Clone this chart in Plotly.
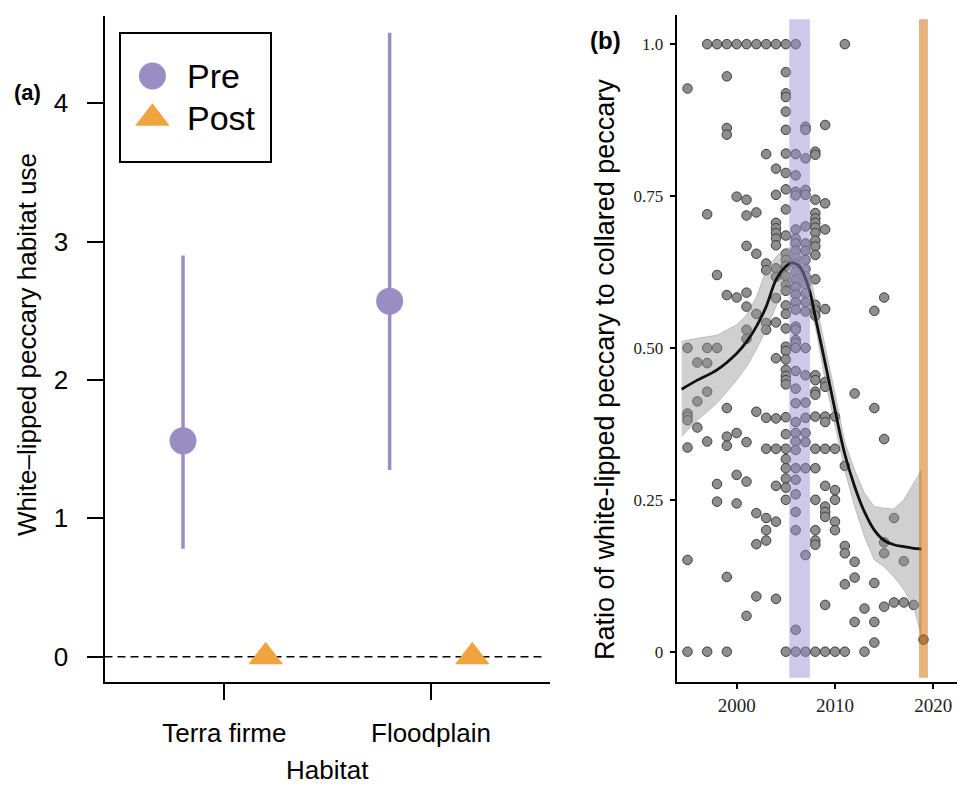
import numpy as np
import plotly.graph_objects as go

# ---------------- Panel (a) data ----------------
habitats = ["Terra firme", "Floodplain"]
pre_mean = [1.56, 2.57]
pre_lower = [0.78, 1.35]
pre_upper = [2.90, 4.51]
post_mean = [0.0, 0.0]
period_names = ["Pre", "Post"]

# ---------------- Panel (b) data ----------------
survey_year = (
    [1995] * 8 + [1996] * 3 + [1997] * 7 + [1998] * 5 + [1999] * 10 + [2000] * 6
    + [2001] * 11 + [2002] * 8 + [2003] * 11 + [2004] * 18 + [2005] * 36
    + [2006] * 36 + [2007] * 24 + [2008] * 27 + [2009] * 15 + [2010] * 7
    + [2011] * 6 + [2012] * 4 + [2013] * 2 + [2014] * 5 + [2015] * 5
    + [2016] * 2 + [2017] * 2 + [2018] * 1 + [2019] * 1
)
ratio = [
    # 1995
    0.927, 0.500, 0.392, 0.387, 0.381, 0.336, 0.151, 0.0,
    # 1996
    0.476, 0.412, 0.369,
    # 1997
    1.0, 0.720, 0.500, 0.475, 0.428, 0.346, 0.0,
    # 1998
    1.0, 0.620, 0.500, 0.276, 0.247,
    # 1999
    1.0, 0.947, 0.862, 0.851, 0.587, 0.401, 0.354, 0.339, 0.123, 0.0,
    # 2000
    1.0, 0.749, 0.583, 0.360, 0.291, 0.244,
    # 2001
    1.0, 0.744, 0.718, 0.668, 0.591, 0.568, 0.530, 0.515, 0.345, 0.280, 0.059,
    # 2002
    1.0, 0.723, 0.655, 0.556, 0.395, 0.228, 0.177, 0.091,
    # 2003
    1.0, 0.819, 0.639, 0.628, 0.541, 0.530, 0.385, 0.334, 0.220, 0.200, 0.183,
    # 2004
    1.0, 0.795, 0.752, 0.706, 0.697, 0.689, 0.680, 0.669, 0.631, 0.617, 0.582,
    0.542, 0.483, 0.384, 0.334, 0.273, 0.214, 0.087,
    # 2005
    1.0, 0.954, 0.919, 0.913, 0.889, 0.859, 0.820, 0.788, 0.761, 0.728, 0.685,
    0.655, 0.645, 0.635, 0.618, 0.604, 0.594, 0.570, 0.556, 0.532, 0.502, 0.495,
    0.481, 0.464, 0.454, 0.447, 0.440, 0.386, 0.358, 0.334, 0.317, 0.302, 0.285,
    0.270, 0.250, 0.0,
    # 2006
    1.0, 0.819, 0.784, 0.757, 0.751, 0.695, 0.680, 0.672, 0.660, 0.648, 0.638,
    0.625, 0.612, 0.600, 0.588, 0.575, 0.563, 0.535, 0.530, 0.513, 0.508, 0.500,
    0.462, 0.433, 0.409, 0.378, 0.360, 0.346, 0.332, 0.302, 0.283, 0.259, 0.230,
    0.200, 0.036, 0.0,
    # 2007
    0.864, 0.859, 0.812, 0.760, 0.752, 0.700, 0.672, 0.660, 0.645, 0.630, 0.618,
    0.605, 0.590, 0.575, 0.560, 0.500, 0.455, 0.410, 0.385, 0.360, 0.345, 0.302,
    0.159, 0.0,
    # 2008
    0.823, 0.818, 0.744, 0.722, 0.713, 0.706, 0.698, 0.689, 0.677, 0.667, 0.653,
    0.613, 0.571, 0.562, 0.553, 0.455, 0.447, 0.428, 0.423, 0.387, 0.334, 0.302,
    0.250, 0.200, 0.183, 0.176, 0.0,
    # 2009
    0.867, 0.738, 0.695, 0.564, 0.444, 0.436, 0.387, 0.378, 0.334, 0.273, 0.239,
    0.230, 0.222, 0.077, 0.0,
    # 2010
    0.387, 0.334, 0.266, 0.250, 0.214, 0.200, 0.0,
    # 2011
    1.0, 0.306, 0.174, 0.162, 0.111, 0.0,
    # 2012
    0.425, 0.148, 0.122, 0.049,
    # 2013
    0.071, 0.0,
    # 2014
    0.561, 0.401, 0.113, 0.049, 0.015,
    # 2015
    0.583, 0.350, 0.180, 0.162, 0.074,
    # 2016
    0.220, 0.081,
    # 2017
    0.149, 0.081,
    # 2018
    0.077,
    # 2019
    0.020,
]

# smoothed trend
smooth_year = [1994.4, 1996, 1998, 2000, 2001, 2002, 2003, 2004, 2005, 2005.6,
               2006.4, 2007.4, 2008, 2009, 2010, 2011, 2012, 2013, 2014, 2015,
               2016, 2017, 2018, 2018.8]
smooth_fit = [0.432, 0.447, 0.464, 0.491, 0.510, 0.535, 0.568, 0.612, 0.634, 0.640,
              0.634, 0.595, 0.551, 0.475, 0.398, 0.325, 0.272, 0.230, 0.200, 0.183,
              0.176, 0.173, 0.170, 0.169]
smooth_hi = [0.511, 0.516, 0.521, 0.538, 0.554, 0.584, 0.628, 0.650, 0.664, 0.665,
             0.658, 0.626, 0.579, 0.503, 0.426, 0.345, 0.299, 0.261, 0.239, 0.236,
             0.235, 0.250, 0.277, 0.299]
smooth_lo = [0.354, 0.381, 0.409, 0.447, 0.469, 0.497, 0.530, 0.568, 0.606, 0.613,
             0.606, 0.568, 0.535, 0.447, 0.370, 0.298, 0.239, 0.189, 0.151, 0.140,
             0.123, 0.102, 0.074, 0.025]

# highlighted periods
band_start = [2005.35, 2018.55]
band_end = [2007.45, 2019.45]
band_colors = ["rgba(150,140,210,0.47)", "rgba(205,102,0,0.5)"]

# ---------------- styling ----------------
PURPLE = "#998ec3"
ORANGE = "#f1a340"
SANS = "Liberation Sans, Arial, sans-serif"
SERIF = "Liberation Serif, Times New Roman, serif"
W, H = 957, 788
dodge = 0.2

pos = np.arange(1, len(habitats) + 1)
pre_mean_a = np.array(pre_mean)

fig = go.Figure()

# Panel (a)
fig.add_trace(go.Scatter(
    x=pos - dodge, y=pre_mean, mode="markers", name="Pre",
    marker=dict(symbol="circle", size=27, color=PURPLE),
    error_y=dict(type="data", symmetric=False,
                 array=np.array(pre_upper) - pre_mean_a,
                 arrayminus=pre_mean_a - np.array(pre_lower),
                 width=0, thickness=3.5, color=PURPLE),
    xaxis="x", yaxis="y", showlegend=False, cliponaxis=False))
fig.add_trace(go.Scatter(
    x=pos + dodge, y=post_mean, mode="markers", name="Post",
    marker=dict(symbol="triangle-up", size=30, color=ORANGE),
    xaxis="x", yaxis="y", showlegend=False, cliponaxis=False))

# custom legend (drawn on its own small axes)
fig.add_trace(go.Scatter(
    x=[0], y=[period_names[0]], mode="markers",
    marker=dict(symbol="circle", size=27, color=PURPLE),
    xaxis="x3", yaxis="y3", showlegend=False, hoverinfo="skip"))
fig.add_trace(go.Scatter(
    x=[0], y=[period_names[1]], mode="markers",
    marker=dict(symbol="triangle-up", size=30, color=ORANGE),
    xaxis="x3", yaxis="y3", showlegend=False, hoverinfo="skip"))

# Panel (b)
fig.add_trace(go.Scatter(
    x=survey_year, y=ratio, mode="markers",
    marker=dict(size=9.5, color="#8e8e8e", line=dict(color="#3c3c3c", width=1)),
    xaxis="x2", yaxis="y2", showlegend=False))
fig.add_trace(go.Scatter(
    x=smooth_year, y=smooth_lo, mode="lines",
    line=dict(color="rgba(120,120,120,0.6)", width=0.6),
    xaxis="x2", yaxis="y2", showlegend=False, hoverinfo="skip"))
fig.add_trace(go.Scatter(
    x=smooth_year, y=smooth_hi, mode="lines", fill="tonexty",
    fillcolor="rgba(150,150,150,0.45)",
    line=dict(color="rgba(120,120,120,0.6)", width=0.6),
    xaxis="x2", yaxis="y2", showlegend=False, hoverinfo="skip"))
fig.add_trace(go.Scatter(
    x=smooth_year, y=smooth_fit, mode="lines",
    line=dict(color="#111111", width=2.8, shape="spline"),
    xaxis="x2", yaxis="y2", showlegend=False))

shapes = [
    dict(type="line", xref="x domain", yref="y", x0=0, x1=0.985, y0=0, y1=0,
         line=dict(color="black", width=1.6, dash="8px,5px"), layer="below"),
]
for s, e, c in zip(band_start, band_end, band_colors):
    shapes.append(dict(type="rect", xref="x2", yref="y2", x0=s, x1=e,
                       y0=-0.043, y1=1.041, fillcolor=c, line=dict(width=0),
                       layer="above"))

def ann(text, x, y, size, angle=0, bold=False):
    return dict(text=f"<b>{text}</b>" if bold else text, textangle=angle,
                x=x / W, y=1 - y / H, xref="paper", yref="paper",
                xanchor="center", yanchor="middle", showarrow=False,
                font=dict(family=SANS, size=size, color="black"))

annotations = [
    ann("(a)", 27, 92, 22, bold=True),
    ann("(b)", 605, 41, 24, bold=True),
    ann("White\u2013lipped peccary habitat use", 27, 345, 26, angle=-90),
    ann("Habitat", 327, 770, 26),
    ann("Ratio of white-lipped peccary to collared peccary", 605, 370, 27, angle=-90),
]
for i, nm in enumerate(period_names):
    annotations.append(dict(text=nm, x=0.2175, y=i, xref="x3", yref="y3",
                            xanchor="left", yanchor="middle", showarrow=False,
                            font=dict(family=SANS, size=34, color="black")))

axis_common = dict(showline=True, linecolor="black", linewidth=2, ticks="outside",
                   tickcolor="black", tickwidth=2, showgrid=False, zeroline=False)

fig.update_layout(
    width=W, height=H, margin=dict(l=0, r=0, t=0, b=0),
    paper_bgcolor="white", plot_bgcolor="white",
    xaxis=dict(domain=[104.5 / W, 550 / W], range=[0.42, 2.576],
               tickvals=pos, ticktext=habitats, ticklen=16,
               tickfont=dict(family=SANS, size=26, color="black"),
               ticklabelstandoff=10, anchor="y", **axis_common),
    yaxis=dict(domain=[1 - 682.3 / H, 1 - 15.7 / H], range=[-0.185, 4.633],
               tickvals=[0, 1, 2, 3, 4], ticklen=16,
               tickfont=dict(family=SANS, size=26, color="black"),
               ticklabelstandoff=13, anchor="x", **axis_common),
    xaxis2=dict(domain=[676.7 / W, 1.0], range=[1993.9, 2022.41],
                tickvals=[2000, 2010, 2020], ticklen=5,
                tickfont=dict(family=SERIF, size=19, color="#222"),
                ticklabelstandoff=0, anchor="y2", **axis_common),
    yaxis2=dict(domain=[1 - 681.7 / H, 1 - 15 / H], range=[-0.0494, 1.048],
                tickvals=[0, 0.25, 0.5, 0.75, 1.0],
                ticktext=["0", "0.25", "0.50", "0.75", "1.0"], ticklen=5,
                tickfont=dict(family=SERIF, size=17, color="#222"),
                ticklabelstandoff=3, anchor="x2", **axis_common),
    xaxis3=dict(domain=[120.7 / W, 270.4 / W], range=[-0.212, 0.788],
                showline=True, mirror=True, linecolor="black", linewidth=1.5,
                showticklabels=False, ticks="", showgrid=False, zeroline=False,
                anchor="y3", fixedrange=True),
    yaxis3=dict(domain=[1 - 160.7 / H, 1 - 33.7 / H], type="category",
                categoryorder="array", categoryarray=period_names,
                range=[2.0, -1.0], autorange=False,
                showline=True, mirror=True, linecolor="black", linewidth=1.5,
                showticklabels=False, ticks="", showgrid=False, zeroline=False,
                anchor="x3", fixedrange=True),
    shapes=shapes, annotations=annotations,
)

fig.write_html("out.html")
